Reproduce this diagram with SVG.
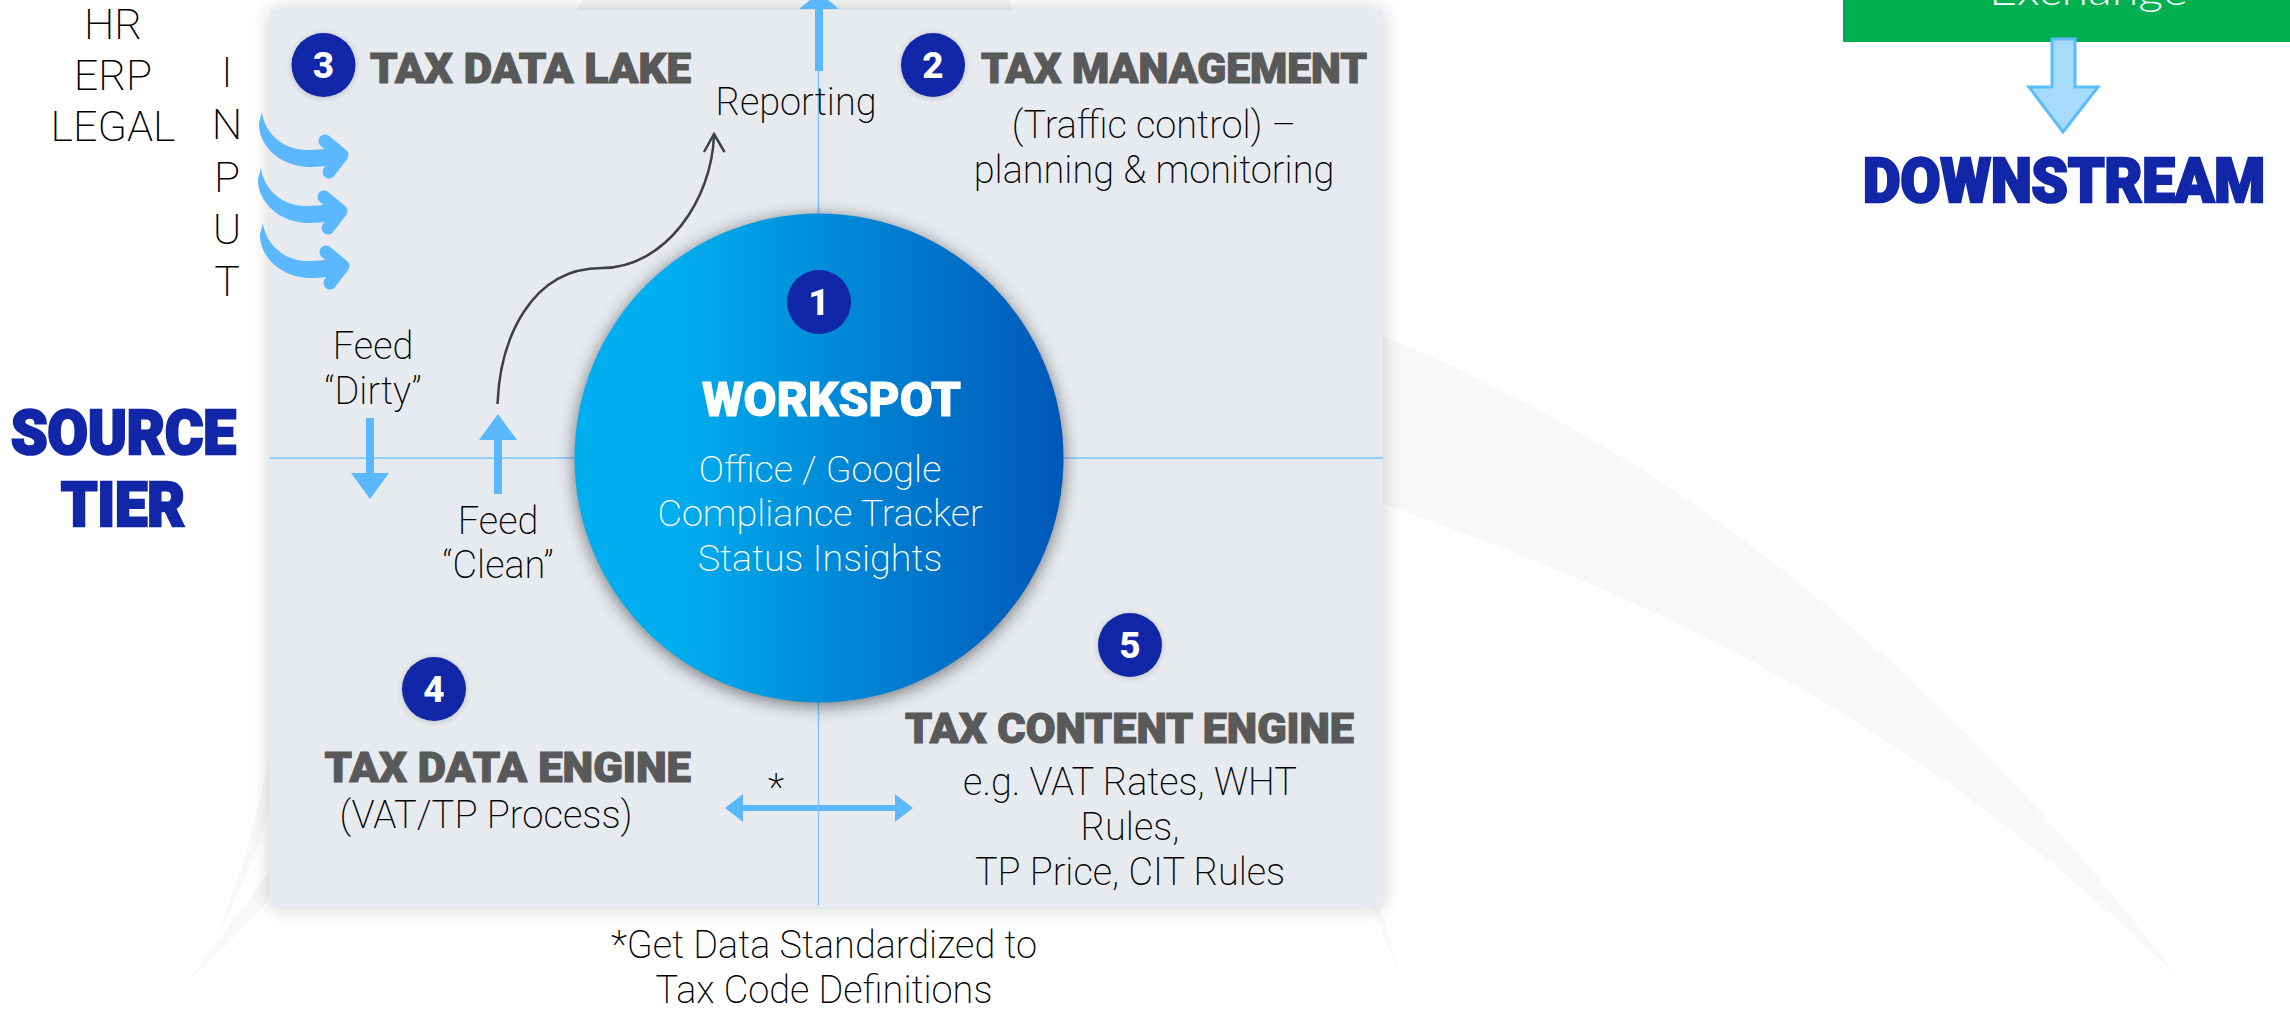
<svg xmlns="http://www.w3.org/2000/svg" width="2290" height="1009" viewBox="0 0 2290 1009">
<defs>
<linearGradient id="orb" x1="0" y1="0" x2="1" y2="0"><stop offset="0.2" stop-color="#00aeef"/><stop offset="1" stop-color="#0057b8"/></linearGradient>
<filter id="ps" x="-10%" y="-10%" width="120%" height="120%"><feGaussianBlur stdDeviation="10"/></filter>
<filter id="cs" x="-20%" y="-20%" width="140%" height="140%"><feGaussianBlur stdDeviation="9"/></filter>
<filter id="bs" x="-30%" y="-30%" width="160%" height="160%"><feGaussianBlur stdDeviation="3"/></filter>
<g id="swish">
<path d="M262,112 C264,130 280,150 307,150 C316,150 323,149 332,148 L335,165 C325,166 318,167 310,167 C280,167 258,145 259,123 Z" fill="#5bb8ff"/>
<path d="M325,141 L342,155 L329,172" fill="none" stroke="#5bb8ff" stroke-width="13" stroke-linecap="round" stroke-linejoin="round"/>
</g>
</defs>
<style>
text{font-family:Roboto,"Liberation Sans",sans-serif}
.l{font-weight:200;font-size:37.9px;fill:#000;text-anchor:middle}
.i{font-weight:200;font-size:43px;fill:#000;text-anchor:middle}
.w{font-weight:200;font-size:37.7px;fill:#fff;text-anchor:middle}
.h{font-weight:900;font-size:43px;fill:#595959;stroke:#595959;stroke-width:1.2}
.t{font-weight:900;font-size:61px;fill:#1226a8;stroke:#1226a8;stroke-width:2.6}
.n{font-weight:800;font-size:37px;fill:#fff;text-anchor:middle}
.b{fill:#1226a8}
.bs{fill:#000;opacity:.18;filter:url(#bs)}
.sw{fill:#000;fill-opacity:.028}
.thin{stroke:#7cc6ff;stroke-width:1.5;fill:none}
.thick{fill:#5bb8ff}
</style>
<rect width="2290" height="1009" fill="#fff"/>
<g id="background">
<path class="sw" d="M1383,336 C1649,445 1915,635 2181,981 C1915,715 1649,598 1383,504 Z"/>
<path class="sw" d="M269,757 C255,830 235,890 212,947 C235,900 255,860 269,813 Z"/>
<path class="sw" d="M269,870 C245,905 215,945 190,978 C225,950 250,920 269,900 Z"/>
<path class="sw" d="M1372,907 L1380,907 L1400,975 Z"/>
<rect x="270" y="10" width="1113" height="897" fill="#000" opacity=".2" filter="url(#ps)"/>
<path fill="#000" fill-opacity=".035" d="M583,0 L1009,0 L1014,10 L577,10 Z"/>
</g>
<g id="panel"><rect x="270" y="10" width="1113" height="897" fill="#e7ebf0"/></g>
<g id="exchange">
<rect x="1843" y="0" width="447" height="42" fill="#00b050"/>
<text x="1989" y="5" textLength="199" lengthAdjust="spacingAndGlyphs" style="font-family:Lato,sans-serif;font-weight:300;font-size:40px;fill:#fff">Exchange</text>
</g>
<g id="connectors">
<path class="thin" d="M270,458 H575 M1063,458 H1383 M818.5,10 V213"/>
<path class="thick" d="M815,71 H823 V9 H839 L828,0 L819,-9 L810,0 L799,9 H815 Z"/>
<path class="thick" d="M366,418 H374 V473 H389 L370,499 L351,473 H366 Z"/>
<path class="thick" d="M494,494 H502 V440 H517 L498,414 L479,440 H494 Z"/>
<path class="thick" d="M725,808 L743,794 V805 H895 V794 L913,808 L895,822 V811 H743 V822 Z"/>
<path d="M818.5,702 V905" class="thin"/>
<use href="#swish"/>
<use href="#swish" x="-1" y="56"/>
<use href="#swish" x="1" y="111"/>
<path d="M497.5,404 C500,340 530,268 602,268 C665,268 712,200 714,135" fill="none" stroke="#404040" stroke-width="2.5"/>
<path d="M704,152 L714,134 L724.5,152" fill="none" stroke="#404040" stroke-width="2.5"/>
<path d="M2052,39 H2075 V87 H2098 L2063,132 L2029,87 H2052 Z" fill="#a6daff" stroke="#5bbcff" stroke-width="3"/>
</g>
<g id="workspot">
<circle cx="819" cy="461" r="244" fill="#000" opacity=".55" filter="url(#cs)"/>
<circle cx="819" cy="458" r="244.5" fill="url(#orb)"/>
<text x="702" y="416" textLength="259" lengthAdjust="spacingAndGlyphs" style="font-weight:900;font-size:49px;fill:#fff;stroke:#fff;stroke-width:1">WORKSPOT</text>
<text class="w" x="820" y="482">Office / Google</text>
<text class="w" x="820" y="526">Compliance Tracker</text>
<text class="w" x="820" y="571">Status Insights</text>
<circle class="b" cx="819" cy="302" r="32"/><text class="n" x="819" y="315">1</text>
</g>
<g id="tax-management">
<circle class="bs" cx="933" cy="66" r="32"/><circle class="b" cx="933" cy="65" r="32"/><text class="n" x="933" y="78">2</text>
<text class="h" x="981" y="83" textLength="386" lengthAdjust="spacingAndGlyphs">TAX MANAGEMENT</text>
<text class="l" x="1154" y="138">(Traffic control) –</text>
<text class="l" x="1154" y="183">planning &amp; monitoring</text>
</g>
<g id="tax-data-lake">
<circle class="bs" cx="323.5" cy="66" r="32"/><circle class="b" cx="323.5" cy="65" r="32"/><text class="n" x="323.5" y="78">3</text>
<text class="h" x="370" y="83" textLength="321" lengthAdjust="spacingAndGlyphs">TAX DATA LAKE</text>
</g>
<g id="tax-data-engine">
<circle class="bs" cx="434" cy="690" r="32"/><circle class="b" cx="434" cy="689" r="32"/><text class="n" x="434" y="702">4</text>
<text class="h" x="324.5" y="782" textLength="366.5" lengthAdjust="spacingAndGlyphs">TAX DATA ENGINE</text>
<text class="l" x="486" y="828" textLength="293" lengthAdjust="spacingAndGlyphs">(VAT/TP Process)</text>
</g>
<g id="tax-content-engine">
<circle class="bs" cx="1130" cy="646" r="32"/><circle class="b" cx="1130" cy="645" r="32"/><text class="n" x="1130" y="658">5</text>
<text class="h" x="905" y="743" textLength="449" lengthAdjust="spacingAndGlyphs">TAX CONTENT ENGINE</text>
<text class="l" x="1130" y="795">e.g. VAT Rates, WHT</text>
<text class="l" x="1130" y="840">Rules,</text>
<text class="l" x="1130" y="885">TP Price, CIT Rules</text>
</g>
<g id="labels">
<text class="i" x="113" y="39">HR</text>
<text class="i" x="113" y="90">ERP</text>
<text class="i" x="113" y="141">LEGAL</text>
<text class="i" x="227" y="87">I</text>
<text class="i" x="227" y="139">N</text>
<text class="i" x="227" y="192">P</text>
<text class="i" x="227" y="244">U</text>
<text class="i" x="227" y="296">T</text>
<text class="t" x="11" y="454" textLength="225" lengthAdjust="spacingAndGlyphs">SOURCE</text>
<text class="t" x="61" y="526" textLength="124" lengthAdjust="spacingAndGlyphs">TIER</text>
<text class="l" x="373" y="359">Feed</text>
<text class="l" x="373" y="404">“Dirty”</text>
<text class="l" x="498" y="534">Feed</text>
<text class="l" x="498" y="578">“Clean”</text>
<text class="l" x="796" y="115">Reporting</text>
<text class="l" x="776" y="801">*</text>
<text class="l" x="824" y="958">*Get Data Standardized to</text>
<text class="l" x="824" y="1003">Tax Code Definitions</text>
</g>
<g id="downstream"><text class="t" x="1863" y="202" textLength="402" lengthAdjust="spacingAndGlyphs">DOWNSTREAM</text></g>
</svg>
